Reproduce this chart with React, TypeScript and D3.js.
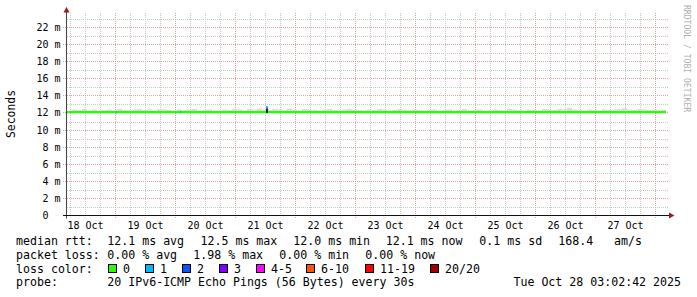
import React from "react";
import * as d3 from "d3";

// ---------- data ----------
const startTime = new Date(2025, 9, 18, 4, 36);
const endTime = new Date(2025, 9, 28, 4, 36);
const dataEnd = new Date(2025, 9, 28, 4, 12);

const yMajorValues = [0, 2, 4, 6, 8, 10, 12, 14, 16, 18, 20, 22];
const yMinorValues = [1, 3, 5, 7, 9, 11, 13, 15, 17, 19, 21, 23];
const dayLabels = ["18 Oct", "19 Oct", "20 Oct", "21 Oct", "22 Oct", "23 Oct", "24 Oct", "25 Oct", "26 Oct", "27 Oct"];

// median rtt (ms) per 2-hour bucket
const medianRtt = [
  12.1, 12.1, 12.1, 12.1, 12.1, 12.1, 12.1, 12.1, 12.1, 12.1, 12.1, 12.1,
  12.1, 12.1, 12.1, 12.1, 12.1, 12.1, 12.1, 12.1, 12.1, 12.1, 12.1, 12.1,
  12.1, 12.1, 12.1, 12.1, 12.1, 12.1, 12.1, 12.1, 12.1, 12.1, 12.1, 12.1,
  12.1, 12.1, 12.1, 12.1, 12.1, 12.1, 12.1, 12.1, 12.1, 12.1, 12.1, 12.1,
  12.1, 12.1, 12.1, 12.1, 12.1, 12.1, 12.1, 12.1, 12.1, 12.1, 12.1, 12.1,
  12.1, 12.1, 12.1, 12.1, 12.1, 12.1, 12.1, 12.1, 12.1, 12.1, 12.1, 12.1,
  12.1, 12.1, 12.1, 12.1, 12.1, 12.1, 12.1, 12.1, 12.1, 12.1, 12.1, 12.1,
  12.1, 12.1, 12.1, 12.1, 12.1, 12.1, 12.1, 12.1, 12.1, 12.1, 12.1, 12.1,
  12.1, 12.1, 12.1, 12.1, 12.1, 12.1, 12.1, 12.1, 12.1, 12.1, 12.1, 12.1,
  12.1, 12.1, 12.1, 12.1, 12.1, 12.1, 12.1, 12.1, 12.1, 12.1, 12.1, 12.1,
];
// upper edge of the ping "smoke" (ms) per 2-hour bucket
const smokeTop = [
  12.25, 12.4, 12.35, 12.45, 12.3, 12.4, 12.25, 12.35, 12.4, 12.3, 12.45, 12.35,
  12.3, 12.4, 12.45, 12.35, 12.4, 12.3, 12.45, 12.4, 12.35, 12.3, 12.4, 12.35,
  12.4, 12.45, 12.3, 12.35, 12.4, 12.3, 12.25, 12.4, 12.35, 12.45, 12.4, 12.3,
  12.45, 12.4, 12.5, 12.4, 12.35, 12.45, 12.4, 12.35, 12.5, 12.4, 12.3, 12.45,
  12.4, 12.35, 12.3, 12.4, 12.45, 12.35, 12.3, 12.4, 12.45, 12.4, 12.35, 12.3,
  12.4, 12.35, 12.45, 12.4, 12.3, 12.35, 12.45, 12.4, 12.3, 12.4, 12.35, 12.3,
  12.35, 12.4, 12.3, 12.35, 12.4, 12.3, 12.35, 12.45, 12.3, 12.35, 12.4, 12.3,
  12.3, 12.4, 12.35, 12.3, 12.45, 12.4, 12.35, 12.3, 12.4, 12.35, 12.3, 12.45,
  12.4, 12.35, 12.45, 12.4, 12.6, 12.4, 12.35, 12.3, 12.4, 12.35, 12.3, 12.4,
  12.35, 12.4, 12.45, 12.55, 12.4, 12.35, 12.45, 12.4, 12.35, 12.4, 12.3, 12.35,
];
// loss events: time, lost pings, median, smoke spread
const lossTimes = [new Date(2025, 9, 19, 0, 12), new Date(2025, 9, 20, 1, 48), new Date(2025, 9, 21, 12, 0)];
const lossCounts = [1, 1, 1];
const lossMedians = [12.1, 12.1, 12.65];
const lossSpreadTop = [12.1, 12.1, 12.6];

const lossLabels = ["0", "1", "2", "3", "4-5", "6-10", "11-19", "20/20"];
const lossColors = ["#26ff00", "#00b8ff", "#0059ff", "#7e00ff", "#ff00ff", "#ff5500", "#ff0000", "#a10000"];

// ---------- layout ----------
const MONO = "'DejaVu Sans Mono', monospace";
const AXIS_FS = 10;
const LEG_FS = 11.6;

export default function App() {
  const x = d3.scaleTime().domain([startTime, endTime]).range([67, 667]);
  const y = d3.scaleLinear().domain([0, 22]).range([215.5, 27.5]);
  const plotTop = 13;
  const plotBottom = 215.5;
  const plotLeft = 67;
  const plotRight = 667;

  const minorX = d3.timeHour.every(6)!.range(startTime, endTime).filter((d) => d.getHours() !== 0);
  const majorX = d3.timeDay.range(startTime, endTime);
  const noons = d3.timeDay.range(new Date(2025, 9, 18), new Date(2025, 9, 28)).map((d) => d3.timeHour.offset(d, 12));

  const buckets = medianRtt.map((m, i) => {
    const t0 = d3.timeHour.offset(startTime, 2 * i);
    let t1 = d3.timeHour.offset(startTime, 2 * (i + 1));
    if (t1 > dataEnd) t1 = dataEnd;
    return { t0, t1, m, s: smokeTop[i] };
  });

  const medianLine = d3
    .line<{ t: Date; v: number }>()
    .x((d) => x(d.t))
    .y((d) => y(d.v))
    .curve(d3.curveStepAfter);
  const medianPts = buckets.map((b) => ({ t: b.t0, v: b.m }));
  medianPts.push({ t: buckets[buckets.length - 1].t1, v: buckets[buckets.length - 1].m });

  const lossColorFor = (n: number) => {
    if (n <= 0) return lossColors[0];
    if (n === 1) return lossColors[1];
    if (n === 2) return lossColors[2];
    if (n === 3) return lossColors[3];
    if (n <= 5) return lossColors[4];
    if (n <= 10) return lossColors[5];
    if (n <= 19) return lossColors[6];
    return lossColors[7];
  };

  const boxXs = [108.5, 145.5, 182.5, 219.5, 256.5, 306.5, 365.5, 430.5];

  const medianItems: [number, string][] = [
    [16, "median rtt:"],
    [107.3, "12.1 ms avg"],
    [200.5, "12.5 ms max"],
    [293.3, "12.0 ms min"],
    [385.7, "12.1 ms now"],
    [479.3, "0.1 ms sd"],
    [558.3, "168.4"],
    [614, "am/s"],
  ];
  const lossItems: [number, string][] = [
    [16, "packet loss:"],
    [107.3, "0.00 % avg"],
    [193.3, "1.98 % max"],
    [279.3, "0.00 % min"],
    [365.3, "0.00 % now"],
  ];

  return (
    <svg
      width={697}
      height={297}
      style={{ position: "absolute", left: 0, top: 0, background: "#ffffff" }}
      fontFamily={MONO}
    >
      <rect x={0} y={0} width={697} height={297} fill="#ffffff" />

      {/* minor grid */}
      {yMinorValues.map((v) => (
        <line key={"ym" + v} x1={plotLeft} x2={plotRight + 2} y1={Math.round(y(v)) + 0.5} y2={Math.round(y(v)) + 0.5}
          stroke="#c8c8c8" strokeDasharray="1,1" />
      ))}
      {minorX.map((d) => (
        <line key={"xm" + d.getTime()} x1={Math.floor(x(d)) + 0.5} x2={Math.floor(x(d)) + 0.5} y1={plotTop} y2={plotBottom + 2}
          stroke="#c8c8c8" strokeDasharray="1,1" />
      ))}
      {/* major grid */}
      {yMajorValues.filter((v) => v > 0).map((v) => (
        <line key={"yM" + v} x1={plotLeft - 4} x2={plotRight + 2} y1={Math.round(y(v) - 0.5) + 0.5} y2={Math.round(y(v) - 0.5) + 0.5}
          stroke="#e3a2a2" strokeDasharray="1,1" />
      ))}
      {majorX.map((d) => (
        <line key={"xM" + d.getTime()} x1={Math.floor(x(d)) + 0.5} x2={Math.floor(x(d)) + 0.5} y1={plotTop} y2={plotBottom + 3}
          stroke="#e3a2a2" strokeDasharray="1,1" />
      ))}

      {/* smoke */}
      {buckets.map((b, i) => (
        <rect key={"s" + i} x={x(b.t0)} width={Math.max(0, x(b.t1) - x(b.t0))} y={y(b.s)} height={y(12.0) - y(b.s)} fill="#d9d9d9" />
      ))}

      {/* median line */}
      <path d={medianLine(medianPts) || ""} fill="none" stroke={lossColors[0]} strokeWidth={2.4} />

      {/* loss events */}
      {lossTimes.map((t, i) => {
        const xx = Math.round(x(t));
        return (
          <g key={"l" + i}>
            {lossSpreadTop[i] > 12.15 && (
              <rect x={xx} width={2} y={y(lossSpreadTop[i])} height={y(12.1) - y(lossSpreadTop[i]) + 1} fill="#222244" />
            )}
            <rect x={xx} width={lossSpreadTop[i] > 12.15 ? 2 : 1} y={y(lossMedians[i]) - 1.2} height={2.4} fill={lossColorFor(lossCounts[i])} />
          </g>
        );
      })}

      {/* axes */}
      <line x1={66.5} x2={66.5} y1={10} y2={plotBottom + 3} stroke="#444" />
      <line x1={plotLeft - 4} x2={671} y1={215.5} y2={215.5} stroke="#111" />
      <path d="M66.5,7 L63.5,12.5 L69.5,12.5 Z" fill="#a01818" />
      <path d="M674.5,215.5 L669,212.5 L669,218.5 Z" fill="#a01818" />

      {/* y labels */}
      {yMajorValues.map((v) => (
        <text key={"yl" + v} x={v === 0 ? 60.5 - 2 * 0.602 * AXIS_FS : 60.5} y={y(v) + 3.5} fontSize={AXIS_FS} textAnchor="end" fill="#000">
          {v === 0 ? "0" : `${v} m`}
        </text>
      ))}
      {/* x labels */}
      {noons.map((d, i) => (
        <text key={"xl" + i} x={x(d)} y={228.5} fontSize={AXIS_FS} textAnchor="middle" fill="#000">
          {dayLabels[i]}
        </text>
      ))}

      {/* y title */}
      <text transform="translate(15,114) rotate(-90)" fontSize={11.4} textAnchor="middle" fill="#000">Seconds</text>
      {/* watermark */}
      <text transform="translate(684,5) rotate(90)" fontSize={8.1} fill="#b0b0b0">RRDTOOL / TOBI OETIKER</text>

      {/* legend */}
      <g fontSize={LEG_FS} fill="#000" style={{ whiteSpace: "pre" }}>
        {medianItems.map(([xx, s], i) => (
          <text key={"mi" + i} x={xx} y={245}>{s}</text>
        ))}
        {lossItems.map(([xx, s], i) => (
          <text key={"li" + i} x={xx} y={259}>{s}</text>
        ))}
        <text x={16} y={272.5}>loss color:</text>
        {lossLabels.map((l, i) => (
          <g key={"lc" + i}>
            <rect x={boxXs[i]} y={264.5} width={8} height={8} fill={lossColors[i]} stroke="#000" strokeWidth={1} />
            <text x={boxXs[i] + 14.5} y={272.5}>{l}</text>
          </g>
        ))}
        <text x={16} y={286}>probe:</text>
        <text x={107.3} y={286}>20 IPv6-ICMP Echo Pings (56 Bytes) every 30s</text>
        <text x={681} y={286} textAnchor="end">Tue Oct 28 03:02:42 2025</text>
      </g>
    </svg>
  );
}
